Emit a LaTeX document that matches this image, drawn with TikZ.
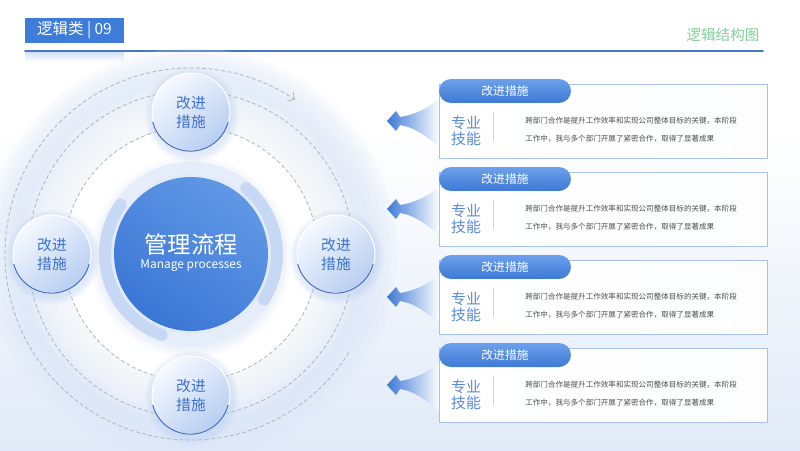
\documentclass[tikz,border=0pt]{standalone}
\usepackage{fontspec}
\setmainfont{Noto Sans CJK SC}
\usetikzlibrary{arrows.meta}
\definecolor{tagblue}{HTML}{3D7CD9}
\definecolor{lineblue}{HTML}{4777C7}
\definecolor{titlegreen}{HTML}{85CE9A}
\definecolor{coreA}{HTML}{6198E5}
\definecolor{coreB}{HTML}{3A76D5}
\definecolor{ptblue}{HTML}{3C72CC}
\definecolor{skillblue}{HTML}{5A8AD7}
\definecolor{descgray}{HTML}{4D4D4D}
\definecolor{panelline}{HTML}{A9C2EB}
\definecolor{pillA}{HTML}{6CA0EB}
\definecolor{pillB}{HTML}{3E79D4}
\definecolor{ringbg}{HTML}{DCE7F8}
\definecolor{bandc}{HTML}{C6D8F4}
\definecolor{dashc}{HTML}{B0B5BF}
\definecolor{arrowblue}{HTML}{3D79D6}
\definecolor{rimblue}{HTML}{4670C0}
\definecolor{ptA}{HTML}{F6F9FE}
\definecolor{ptB}{HTML}{B8CEF2}
\definecolor{bgblue}{HTML}{E1EAF8}

\begin{document}
\begin{tikzpicture}[x=0.02cm,y=0.02cm,>={Straight Barb[length=3pt]},line cap=round,
  tagbox/.style={fill=tagblue,text=white,minimum width=1.98cm,minimum height=0.5cm,inner sep=0pt,font=\fontsize{8.8}{10}\selectfont},
  dashline/.style={draw=dashc,line width=0.45pt,dash pattern=on 2pt off 1.6pt},
  band/.style={draw=bandc,line width=6.8pt},
  core/.style={circle,minimum size=3.08cm,inner sep=0pt,top color=coreA,bottom color=coreB,shading angle=-35},
  ptcircle/.style={circle,minimum size=1.56cm,inner sep=0pt,draw=white,line width=0.6pt,top color=ptA,bottom color=ptB,shading angle=40,
    text=ptblue,align=center,font=\fontsize{8.4}{10.8}\selectfont},
  glow/.style={fill=ptB,opacity=0.12},
  rim/.style={draw=rimblue,line width=0.6pt},
  funnel/.style={left color=arrowblue,right color=white},
  panel/.style={draw=panelline,line width=0.5pt,left color=white,right color=white!92!bgblue},
  pill/.style={rounded corners=0.24cm,top color=pillA,bottom color=pillB,text=white,minimum width=2.64cm,minimum height=0.48cm,inner sep=0pt,font=\fontsize{6.7}{8}\selectfont},
  skill/.style={text=skillblue,align=center,inner sep=0pt,font=\fontsize{8.5}{9.2}\selectfont},
  desc/.style={anchor=west,text=descgray,align=left,inner sep=0pt,font=\fontsize{4.3}{10.2}\selectfont},
  sepline/.style={draw=panelline!70,line width=0.5pt}]
\useasboundingbox (0,0) rectangle (800,450);
% background
\fill[white] (0,0) rectangle (800,450);
\shade[top color=white,bottom color=bgblue] (0,0) rectangle (800,320);
% header
\shade[top color=tagblue!25,bottom color=white] (25,399) rectangle (124,388);
\node[tagbox] (tag) at (74.5,419.5) {逻辑类 | 09};
\draw[lineblue,line width=0.9pt] (25,399) -- (763,399);
\node[text=titlegreen,inner sep=0pt,font=\fontsize{8.3}{10}\selectfont] (title) at (723,415) {逻辑结构图};
% rings around the hub
\coordinate (hub) at (191,196);
\foreach \r in {206,200,...,176}
  \fill[ringbg,opacity=0.2] (hub) circle (\r);
\foreach \r in {168,163,...,128}
  \fill[white,opacity=0.16] (hub) circle (\r);
\fill[white] (hub) circle (127);
\draw[dashline] (hub) circle (127);
\draw[dashline] (hub) circle (163);
\draw[dashline,->] (hub) ++(-32:186) arc[start angle=-32,end angle=-304,radius=186];
% core
\foreach \r in {100,96,...,84}
  \fill[bandc,opacity=0.12] (hub) ++(0,-3) circle (\r);
\draw[bandc!45,line width=6.8pt] (hub) circle (86);
\draw[band] (hub) ++(145:86) arc[start angle=145,end angle=250,radius=86];
\draw[band] (hub) ++(50:86) arc[start angle=50,end angle=-32,radius=86];
\node[core] (core) at (hub) {};
\node[text=white,inner sep=0pt,font=\fontsize{13.3}{15}\selectfont] (ctitle) at (191,205) {管理流程};
\node[text=white,inner sep=0pt,font=\fontsize{6.8}{8}\selectfont] (csub) at (191,184) {Manage processes};
% points
\foreach \x/\y in {191/338,52/196,336/196,191/55}
  \foreach \r in {47,45,...,40}
    \fill[glow] (\x+1,\y-3) circle (\r);
\node[ptcircle] (ptop) at (191,338) {改进\\措施};
\node[ptcircle] (pleft) at (52,196) {改进\\措施};
\node[ptcircle] (pright) at (336,196) {改进\\措施};
\node[ptcircle] (pbottom) at (191,55) {改进\\措施};
\foreach \p in {ptop,pleft,pright,pbottom}
  \draw[rim] (\p.195) arc[start angle=195,end angle=345,radius=39];
% panels
\foreach \i in {0,...,3}{
  \pgfmathsetmacro\hy{359-88*\i}
  \shade[funnel] (387,\hy-30) -- (396,\hy-20) -- (400,\hy-26) .. controls (415,\hy-24) and (430,\hy-16) .. (440,\hy-7)
    -- (440,\hy-57) .. controls (430,\hy-48) and (415,\hy-36) .. (400,\hy-34) -- (396,\hy-40) -- cycle;
  \draw[panel] (439,\hy+7) rectangle (767,\hy-67);
  \node[pill] (head\i) at (505,\hy) {改进措施};
  \node[skill] (skill\i) at (466,\hy-40) {专业\\技能};
  \draw[sepline] (493,\hy-22) -- (493,\hy-50);
  \node[desc] (desc\i) at (525,\hy-39) {跨部门合作是提升工作效率和实现公司整体目标的关键，本阶段\\工作中，我与多个部门开展了紧密合作，取得了显著成果};
}
\end{tikzpicture}
\end{document}
